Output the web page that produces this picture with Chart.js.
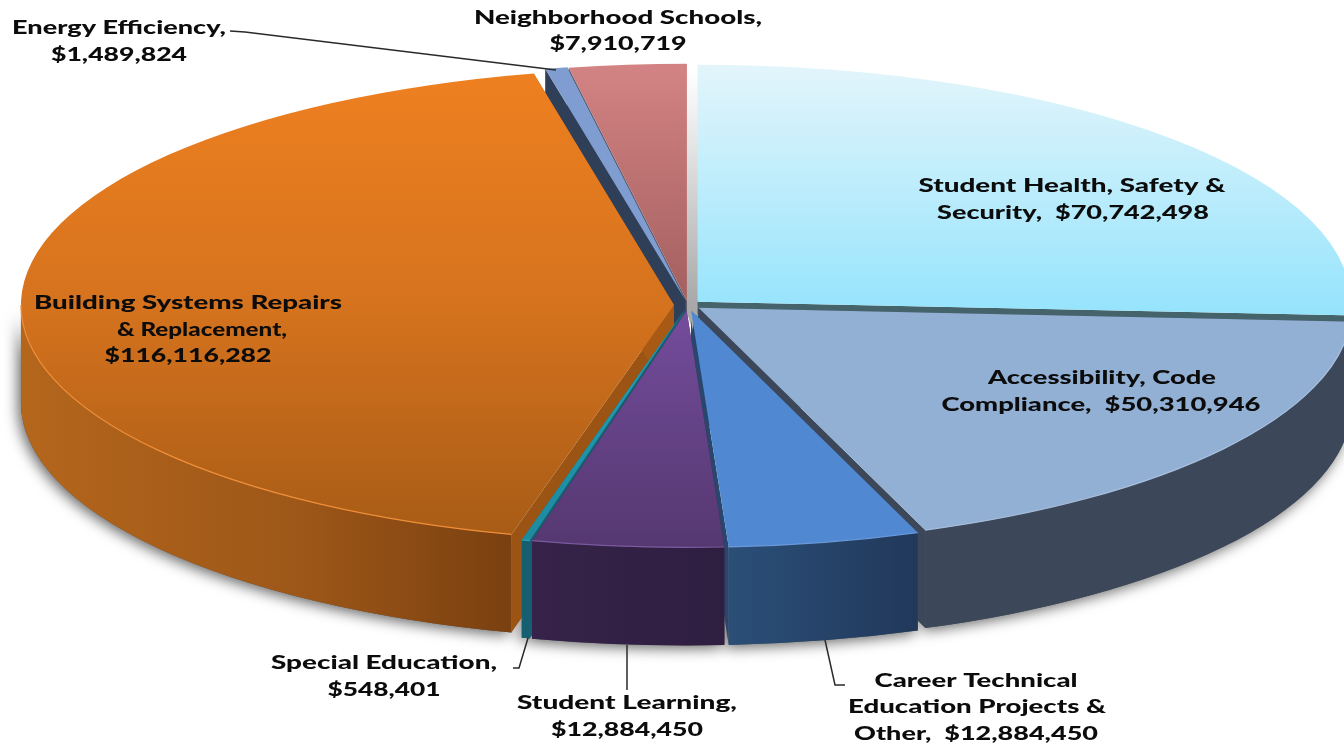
<!DOCTYPE html>
<html>
<head>
<meta charset="utf-8">
<style>html,body{margin:0;padding:0;background:#fff}canvas{display:block}</style>
<script src="https://cdn.jsdelivr.net/npm/chart.js@4"></script>
</head>
<body>
<canvas id="c" width="1344" height="746"></canvas>
<script>
const categories = ["Student Health, Safety & Security","Accessibility, Code Compliance","Career Technical Education Projects & Other","Student Learning","Special Education","Building Systems Repairs & Replacement","Energy Efficiency","Neighborhood Schools"];
const amounts = [70742498,50310946,12884450,12884450,548401,116116282,1489824,7910719];

// view of the tilted disc on the page
const VIEW = {cx:688, cy:305, rx:653, ry:237, depth:98, radius:360};
const explode = [7.25,7.25,8.25,8.25,8.25,7.75,7.25,6.5];

const topStops = [
  [[65,'#E3F5FB'],[310,'#96E4FC']],
  [[310,'#92AFD4'],[530,'#92AFD4']],
  [[310,'#5188D2'],[547,'#5188D2']],
  [[310,'#744C9C'],[547,'#553870']],
  [[310,'#22A0B5'],[540,'#1E8AA0']],
  [[72,'#EE8020'],[300,'#D6731E'],[535,'#A85C16']],
  [[65,'#7F9DD0'],[300,'#7F9DD0']],
  [[65,'#D38383'],[295,'#A56060']]
];
const rimStops = [
  [[700,'#3C4859'],[1344,'#3C4859']],
  [[926,'#3C4859'],[1344,'#3C4859']],
  [[727,'#2B4F78'],[918,'#21385A']],
  [[533,'#372349'],[725,'#2E1E40']],
  [[522,'#165F70'],[533,'#165F70']],
  [[22,'#B4661C'],[300,'#9D5718'],[513,'#7A4010']],
  [[0,'#2F3F58'],[1,'#2F3F58']],
  [[0,'#8A5050'],[1,'#8A5050']]
];
const startWall = ['#44636B','#3C4859','#2A466C','#36234C','#165F70','#9B5413','#2F3F58','#5A5A6A'];
const endWall   = ['#44636B','#3C4859','#2A466C','#36234C','#165F70','#A85A15','#2F3F58','#5A5A6A'];
const rimLight  = ['', '#A8C0DE','#6A9ADB','#7A5AA0','#2AA0B5','#F08E38','',''];

const labelLines = [
  ["Energy Efficiency,",119,28,214],["$1,489,824",119,55,136],
  ["Neighborhood Schools,",618,18,288],["$7,910,719",618,44,137],
  ["Student Health, Safety &",1072,186,307],["Security,  $70,742,498",1073,213,272],
  ["Accessibility, Code",1102,378,228],["Compliance,  $50,310,946",1101,405,319],
  ["Building Systems Repairs",188,303,308],["& Replacement,",202,330,170],["$116,116,282",188,356,167],
  ["Special Education,",384,663,226],["$548,401",384,690,113],
  ["Student Learning,",627,703,220],["$12,884,450",627,730,152],
  ["Career Technical",976,681,203],["Education Projects &",977,707,258],["Other,  $12,884,450",976,734,244]
];
const leaders = [
  [[230,31],[245,32],[556,70]],
  [[513,668],[519,668],[528,638]],
  [[627,645],[627,690]],
  [[825,640],[835,685],[845,685]]
];

function screenY(area, y){
  return (area.top+area.bottom)/2 + (y-VIEW.cy)*VIEW.radius/VIEW.ry;
}
function topFill(ctx){
  const chart=ctx.chart, a=chart.chartArea, s=topStops[ctx.dataIndex];
  if(!s) return '#888';
  if(!a) return s[0][1];
  const y0=s[0][0], y1=s[s.length-1][0];
  const g=chart.ctx.createLinearGradient(0,screenY(a,y0),0,screenY(a,y1));
  s.forEach(p=>g.addColorStop((p[0]-y0)/(y1-y0),p[1]));
  return g;
}
function geom(chart){
  const meta=chart.getDatasetMeta(0);
  const R=meta.data[0].outerRadius;
  const sx=VIEW.rx/R, sy=VIEW.ry/R;
  const area=chart.chartArea, x0=(area.left+area.right)/2, y0=(area.top+area.bottom)/2;
  const arcs=meta.data.map((arc,i)=>{
    const a0=arc.startAngle,a1=arc.endAngle,mid=(a0+a1)/2;
    return {i,a0,a1,mid,rx:VIEW.rx,ry:VIEW.ry,
      ox:VIEW.cx+(arc.x-x0)*sx,
      oy:VIEW.cy+(arc.y-y0)*sy};
  });
  return {meta,R,sx,sy,arcs,x:x0,y:y0};
}
function rimPoint(g,t,dz){return [g.ox+g.rx*Math.cos(t),g.oy+g.ry*Math.sin(t)+dz];}
function frontRange(g){
  const tau=Math.PI*2;
  for(const k of [-tau,0,tau]){
    const lo=Math.max(g.a0+k,0),hi=Math.min(g.a1+k,Math.PI);
    if(hi>lo) return [lo,hi];
  }
  return null;
}
function rimPath(ctx,g,r){
  ctx.beginPath();
  ctx.ellipse(g.ox,g.oy,g.rx,g.ry,0,r[0],r[1],false);
  ctx.ellipse(g.ox,g.oy+VIEW.depth,g.rx,g.ry,0,r[1],r[0],true);
  ctx.closePath();
}
function quad(ctx,g,t,color){
  const p=rimPoint(g,t,0);
  ctx.beginPath();
  ctx.moveTo(g.ox,g.oy);
  ctx.lineTo(p[0],p[1]);
  ctx.lineTo(p[0],p[1]+VIEW.depth);
  ctx.lineTo(g.ox,g.oy+VIEW.depth);
  ctx.closePath();
  ctx.fillStyle=color;
  ctx.fill();
}
const disc3d={
  id:'disc3d',
  afterDatasetsUpdate(chart){
    chart.getDatasetMeta(0).data.forEach((arc,i)=>{
      const mid=(arc.startAngle+arc.endAngle)/2;
      arc.x+=Math.cos(mid)*explode[i];
      arc.y+=Math.sin(mid)*explode[i];
    });
  },
  beforeDatasetDraw(chart){
    const ctx=chart.ctx,G=geom(chart);
    ctx.save();
    ctx.shadowColor='rgba(0,0,0,0.6)';
    ctx.shadowBlur=14;ctx.shadowOffsetX=-3;ctx.shadowOffsetY=3;
    G.arcs.forEach(g=>{
      const r=frontRange(g); if(!r) return;
      rimPath(ctx,g,r);ctx.fillStyle='#555';ctx.fill();
    });
    ctx.restore();
    const gr=ctx.createLinearGradient(0,70,0,305);
    gr.addColorStop(0,'#FFFFFF');gr.addColorStop(0.35,'#E2E2E2');gr.addColorStop(1,'#A8A8A8');
    ctx.fillStyle=gr;
    ctx.beginPath();
    const hx=G.arcs[0].ox;
    ctx.moveTo(hx-11,70);ctx.lineTo(hx+1,70);
    ctx.lineTo(hx+1,312);ctx.lineTo(hx-5,330);ctx.lineTo(hx-11,312);ctx.closePath();ctx.fill();
    [...G.arcs].sort((a,b)=>Math.sin(a.mid)-Math.sin(b.mid)).forEach(g=>{
      ctx.save();
      quad(ctx,g,g.a0,startWall[g.i]);
      quad(ctx,g,g.a1,endWall[g.i]);
      const r=frontRange(g);
      if(r){
        const s=rimStops[g.i],x0=s[0][0],x1=s[s.length-1][0];
        const lg=ctx.createLinearGradient(x0,0,x1,0);
        s.forEach(p=>lg.addColorStop((p[0]-x0)/(x1-x0),p[1]));
        rimPath(ctx,g,r);ctx.fillStyle=lg;ctx.fill();
      }
      ctx.restore();
    });
    // centre gap stays grey where the slices part
    ctx.fillStyle='#A8A8A8';
    ctx.beginPath();
    ctx.moveTo(hx-9,306);ctx.lineTo(hx,306);ctx.lineTo(hx-5,330);ctx.closePath();ctx.fill();
    ctx.save();
    ctx.translate(VIEW.cx,VIEW.cy);
    ctx.scale(G.sx,G.sy);
    ctx.translate(-G.x,-G.y);
  },
  afterDatasetDraw(chart){
    const ctx=chart.ctx;
    ctx.restore();
    const G=geom(chart);
    G.arcs.forEach(g=>{
      const r=frontRange(g);
      if(!r||!rimLight[g.i]) return;
      ctx.beginPath();
      ctx.ellipse(g.ox,g.oy,g.rx,g.ry,0,r[0],r[1],false);
      ctx.strokeStyle=rimLight[g.i];ctx.lineWidth=1.2;ctx.stroke();
    });
  },
  afterDraw(chart){
    const ctx=chart.ctx;
    ctx.save();
    ctx.strokeStyle='#2a2a2a';ctx.lineWidth=1.5;
    leaders.forEach(l=>{
      ctx.beginPath();
      l.forEach((p,i)=>i?ctx.lineTo(p[0],p[1]):ctx.moveTo(p[0],p[1]));
      ctx.stroke();
    });
    ctx.fillStyle='#0c0c0c';
    ctx.font='900 18.5px Lato';
    ctx.textAlign='center';ctx.textBaseline='middle';
    labelLines.forEach(([t,x,y,w])=>{
      const n=ctx.measureText(t).width;
      ctx.save();
      ctx.translate(x,y);ctx.scale(w/n,1);
      ctx.fillText(t,0,0);
      ctx.restore();
    });
    ctx.restore();
  }
};
new Chart(document.getElementById('c'),{
  type:'pie',
  data:{labels:categories,datasets:[{
    data:amounts,
    backgroundColor:topFill,
    borderWidth:0,
    radius:VIEW.radius,
    clip:false
  }]},
  options:{
    responsive:false,animation:false,
    layout:{padding:0},
    plugins:{legend:{display:false},tooltip:{enabled:false}}
  },
  plugins:[disc3d]
});
</script>
</body>
</html>
